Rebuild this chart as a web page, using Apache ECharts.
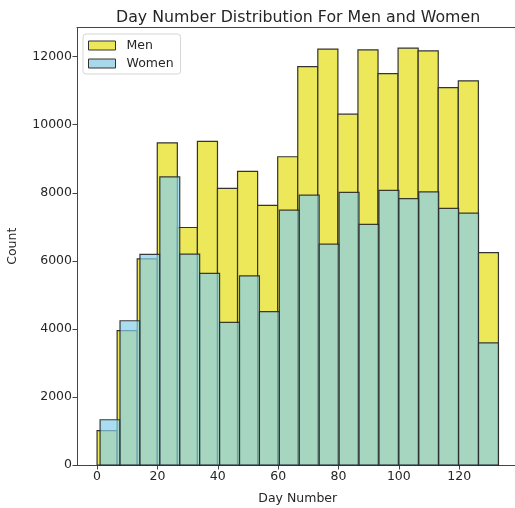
<!DOCTYPE html>
<html>
<head>
<meta charset="utf-8">
<script src="https://cdn.jsdelivr.net/npm/echarts@6/dist/echarts.min.js"></script>
<style>html,body{margin:0;padding:0;background:#fff;}#c{width:515px;height:508px;}</style>
</head>
<body>
<div id="c"></div>
<script>
// Histogram data (20 bins each)
const menRange = [0, 133];
const womenRange = [1, 133];
const binCount = 20;
const menCounts = [1010, 3950, 6060, 9470, 6980, 9510, 8130, 8630, 7630, 9060,
                   11710, 12220, 10310, 12200, 11500, 12250, 12170, 11090, 11290, 6240];
const womenCounts = [1330, 4240, 6190, 8470, 6200, 5630, 4190, 5560, 4510, 7490,
                     7930, 6490, 8010, 7070, 8070, 7830, 8030, 7540, 7400, 3590];
const xTicks = [0, 20, 40, 60, 80, 100, 120];
const yTicks = [0, 2000, 4000, 6000, 8000, 10000, 12000];

function toBins(range, counts) {
  const w = (range[1] - range[0]) / counts.length;
  return counts.map((c, i) => [range[0] + i * w, range[0] + (i + 1) * w, c]);
}
const menBins = toBins(menRange, menCounts);
const womenBins = toBins(womenRange, womenCounts);

function renderBar(params, api) {
  const p0 = api.coord([api.value(0), 0]);
  const p1 = api.coord([api.value(1), api.value(2)]);
  return {
    type: 'rect',
    shape: { x: p0[0], y: p1[1], width: p1[0] - p0[0], height: p0[1] - p1[1] },
    style: api.style()
  };
}

const xMin = -6.65, xMax = 139.65;
const yMax = 12858;
const font = 'DejaVu Sans';
const spine = '#444';

const chart = echarts.init(document.getElementById('c'), null, { renderer: 'canvas' });
chart.setOption({
  animation: false,
  backgroundColor: '#ffffff',
  title: {
    text: 'Day Number Distribution For Men and Women',
    left: 111, top: 5,
    textStyle: { fontFamily: font, fontSize: 15.8, fontWeight: 'normal', color: '#262626' }
  },
  grid: {
    left: 77, top: 27.5, width: 441.5, height: 437.5,
    outerBoundsMode: 'none', containLabel: false, show: false
  },
  legend: {
    left: 83, top: 34, orient: 'vertical',
    padding: [5, 7, 4, 5],
    itemWidth: 27, itemHeight: 9, itemGap: 5,
    borderColor: '#d6d6d6', borderWidth: 1, borderRadius: 3,
    backgroundColor: 'rgba(255,255,255,0.8)',
    textStyle: { fontFamily: font, fontSize: 12.5, color: '#262626', padding: [0, 0, 0, 6] },
    data: [
      { name: 'Men', icon: 'rect', itemStyle: { color: '#ede85a', borderColor: '#333', borderWidth: 1 } },
      { name: 'Women', icon: 'rect', itemStyle: { color: '#a9d8eb', borderColor: '#333', borderWidth: 1 } }
    ]
  },
  xAxis: [{
    type: 'value', min: xMin, max: xMax,
    name: 'Day Number', nameLocation: 'middle', nameGap: 27,
    nameTextStyle: { fontFamily: font, fontSize: 12.5, color: '#262626' },
    axisLine: { show: true, onZero: false, lineStyle: { color: spine, width: 1 } },
    axisTick: { show: true, length: 4.5, lineStyle: { color: spine }, customValues: xTicks },
    axisLabel: { fontFamily: font, fontSize: 12.5, color: '#262626', margin: 5, customValues: xTicks,
                 formatter: v => String(v) },
    splitLine: { show: false }
  }, {
    type: 'value', min: xMin, max: xMax, position: 'top',
    axisLine: { show: true, onZero: false, lineStyle: { color: spine, width: 1 } },
    axisTick: { show: false }, axisLabel: { show: false }, splitLine: { show: false }
  }],
  yAxis: {
    type: 'value', min: 0, max: yMax,
    name: 'Count', nameLocation: 'middle', nameGap: 58,
    nameTextStyle: { fontFamily: font, fontSize: 12.5, color: '#262626' },
    axisLine: { show: true, onZero: false, lineStyle: { color: spine, width: 1 } },
    axisTick: { show: true, length: 4.5, lineStyle: { color: spine }, customValues: yTicks },
    axisLabel: { fontFamily: font, fontSize: 12.5, color: '#262626', margin: 5, customValues: yTicks,
                 formatter: v => String(v) },
    splitLine: { show: false }
  },
  series: [
    {
      name: 'Men', type: 'custom', renderItem: renderBar,
      encode: { x: [0, 1], y: 2 },
      itemStyle: { color: '#ede85a', borderColor: '#333', borderWidth: 1.2 },
      data: menBins, z: 2
    },
    {
      name: 'Women', type: 'custom', renderItem: renderBar,
      encode: { x: [0, 1], y: 2 },
      itemStyle: { color: 'rgba(135,206,235,0.7)', borderColor: 'rgba(40,40,40,0.9)', borderWidth: 1.2 },
      data: womenBins, z: 3
    }
  ]
});
</script>
</body>
</html>
